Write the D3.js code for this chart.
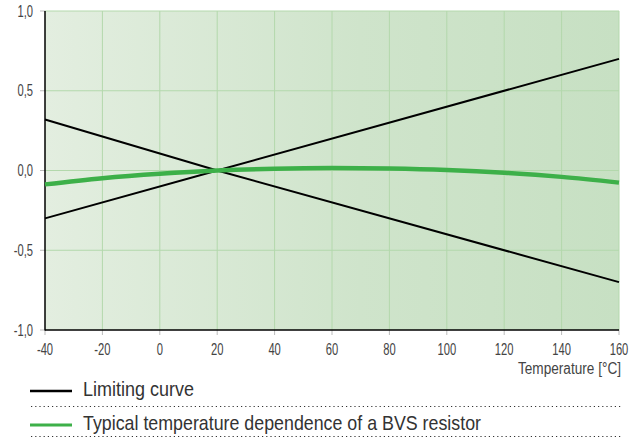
<!DOCTYPE html>
<meta charset='utf-8'>
<style>
    body { margin: 0; background: #fff; }
    text { font-family: 'Liberation Sans', Arial, sans-serif; }
</style>
<body>
<script src='https://d3js.org/d3.v7.min.js'></script>
<script>
    var width = 642,
        height = 443;

    // data
    var temps = [-40, -20, 0, 20, 40, 60, 80, 100, 120, 140, 160];
    var typical = [-0.087, -0.048, -0.02, 0, 0.011, 0.015, 0.012, 0.003, -0.014, -0.04, -0.076];
    var limitUpper = [[-40, -0.3], [20, 0], [160, 0.7]];
    var limitLower = [[-40, 0.32], [20, 0], [160, -0.7]];
    var xTicks = [-40, -20, 0, 20, 40, 60, 80, 100, 120, 140, 160];
    var yTicks = [-1, -0.5, 0, 0.5, 1];
    var legendLabels = ['Limiting curve', 'Typical temperature dependence of a BVS resistor'];

    var m = { left: 45, top: 11, right: 619, bottom: 330 };

    var x = d3.scaleLinear().domain([-40, 160]).range([m.left, m.right]);
    var y = d3.scaleLinear().domain([-1, 1]).range([m.bottom, m.top]);

    var svg = d3.select('body').append('svg')
        .attr('width', width)
        .attr('height', height);

    // condensed-looking text: squeeze a regular face horizontally
    function ctext(px, py, str, size, anchor, sx, fill) {
        return svg.append('g')
            .attr('transform', 'translate(' + px + ',' + py + ') scale(' + sx + ',1)')
            .append('text')
            .attr('text-anchor', anchor)
            .attr('font-size', size)
            .attr('fill', fill)
            .text(str);
    }

    var grad = svg.append('defs').append('linearGradient')
        .attr('id', 'bg').attr('x1', '0%').attr('x2', '100%');
    grad.append('stop').attr('offset', '0%').attr('stop-color', '#e3eee0');
    grad.append('stop').attr('offset', '55%').attr('stop-color', '#cfe4cb');
    grad.append('stop').attr('offset', '100%').attr('stop-color', '#c7e0c3');

    svg.append('rect')
        .attr('x', m.left).attr('y', m.top)
        .attr('width', m.right - m.left).attr('height', m.bottom - m.top)
        .attr('fill', 'url(#bg)');

    // grid
    svg.selectAll('.vg').data(xTicks.slice(1)).enter().append('line')
        .attr('x1', x).attr('x2', x)
        .attr('y1', m.top).attr('y2', m.bottom)
        .attr('stroke', '#b3d8ac').attr('stroke-width', 1);
    svg.selectAll('.hg').data(yTicks.slice(1)).enter().append('line')
        .attr('x1', m.left).attr('x2', m.right)
        .attr('y1', y).attr('y2', y)
        .attr('stroke', '#b3d8ac').attr('stroke-width', 1);

    // tick marks
    svg.selectAll('.yt').data(yTicks).enter().append('line')
        .attr('x1', m.left - 5).attr('x2', m.left)
        .attr('y1', y).attr('y2', y)
        .attr('stroke', '#bbb');
    svg.selectAll('.xt').data(xTicks).enter().append('line')
        .attr('x1', x).attr('x2', x)
        .attr('y1', m.bottom).attr('y2', m.bottom + 5)
        .attr('stroke', '#bbb');

    // axes
    svg.append('line').attr('x1', m.left).attr('x2', m.left)
        .attr('y1', m.top).attr('y2', m.bottom + 0.5)
        .attr('stroke', '#000').attr('stroke-width', 1.5);
    svg.append('line').attr('x1', m.left).attr('x2', m.right)
        .attr('y1', m.bottom).attr('y2', m.bottom)
        .attr('stroke', '#000').attr('stroke-width', 1.5);

    var fmt = function(d) { return d3.format('.1f')(d).replace('.', ',').replace('−', '-'); };

    yTicks.forEach(function(d) {
        ctext(m.left - 12, y(d) + 5.5, fmt(d), 16, 'end', 0.7, '#444');
    });
    xTicks.forEach(function(d) {
        ctext(x(d), m.bottom + 25, String(d), 16, 'middle', 0.7, '#444');
    });
    svg.append('text')
        .attr('x', 518).attr('y', m.bottom + 44)
        .attr('font-size', 16).attr('fill', '#444')
        .attr('textLength', 103).attr('lengthAdjust', 'spacingAndGlyphs')
        .text('Temperature [°C]');

    var line = d3.line().x(function(d) { return x(d[0]); }).y(function(d) { return y(d[1]); });

    [limitUpper, limitLower].forEach(function(l) {
        svg.append('path').attr('d', line(l))
            .attr('fill', 'none').attr('stroke', '#000').attr('stroke-width', 2);
    });

    var typ = temps.map(function(t, i) { return [t, typical[i]]; });
    svg.append('path').attr('d', line.curve(d3.curveMonotoneX)(typ))
        .attr('fill', 'none').attr('stroke', '#3db049').attr('stroke-width', 4.5);

    // legend
    var legColors = ['#000', '#3db049'];
    var legY = [391, 425];
    var dotY = [406.5, 436.5];
    var legW = [111, 398];
    legendLabels.forEach(function(lbl, i) {
        svg.append('line').attr('x1', 30).attr('x2', 72)
            .attr('y1', legY[i]).attr('y2', legY[i])
            .attr('stroke', legColors[i]).attr('stroke-width', i ? 3 : 2.5);
        svg.append('text').attr('x', 83).attr('y', legY[i] + 5)
            .attr('font-size', 21).attr('fill', '#333')
            .attr('textLength', legW[i]).attr('lengthAdjust', 'spacingAndGlyphs')
            .text(lbl);
        svg.append('line').attr('x1', 31).attr('x2', 622)
            .attr('y1', dotY[i]).attr('y2', dotY[i])
            .attr('stroke', '#333').attr('stroke-width', 1.2)
            .attr('stroke-dasharray', '1.2,3');
    });
</script>
</body>
